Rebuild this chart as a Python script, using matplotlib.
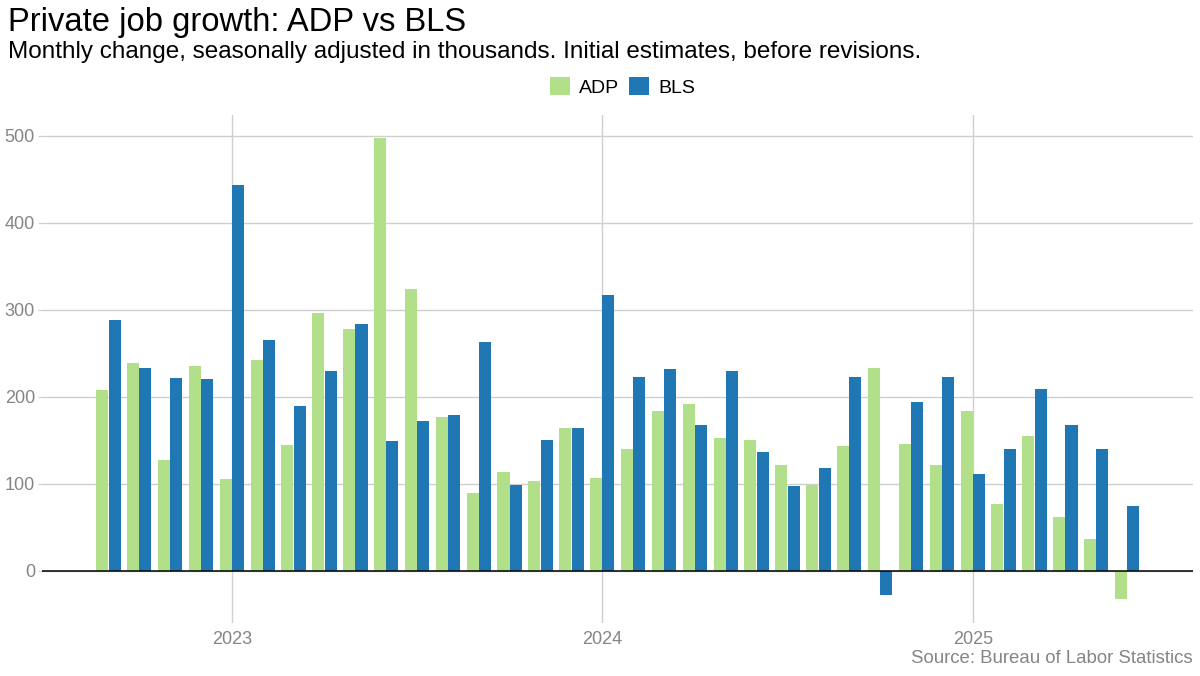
import numpy as np
import matplotlib.pyplot as plt

plt.rcParams['font.family'] = ['Liberation Sans', 'DejaVu Sans']

# Sep 2022 .. Jun 2025, initial estimates (thousands)
months = ['2022-09', '2022-10', '2022-11', '2022-12',
          '2023-01', '2023-02', '2023-03', '2023-04', '2023-05', '2023-06',
          '2023-07', '2023-08', '2023-09', '2023-10', '2023-11', '2023-12',
          '2024-01', '2024-02', '2024-03', '2024-04', '2024-05', '2024-06',
          '2024-07', '2024-08', '2024-09', '2024-10', '2024-11', '2024-12',
          '2025-01', '2025-02', '2025-03', '2025-04', '2025-05', '2025-06']
adp = [208, 239, 127, 235,
       106, 242, 145, 296, 278, 497, 324, 177, 89, 113, 103, 164,
       107, 140, 184, 192, 152, 150, 122, 99, 143, 233, 146, 122,
       183, 77, 155, 62, 37, -33]
bls = [288, 233, 221, 220,
       443, 265, 189, 230, 283, 149, 172, 179, 263, 99, 150, 164,
       317, 223, 232, 167, 229, 136, 97, 118, 223, -28, 194, 223,
       111, 140, 209, 167, 140, 74]
year_labels = ['2023', '2024', '2025']

x = np.arange(len(months))
year_ticks = [i for i, m in enumerate(months) if m.endswith('-01')]

fig = plt.figure(figsize=(12, 6.76), dpi=100)
ax = fig.add_axes([0.035, 0.0784, 0.959, 0.752])

ax.bar(x - 0.2, adp, width=0.39, color='#b2df8a', label='ADP', zorder=3)
ax.bar(x + 0.2, bls, width=0.39, color='#1f78b4', label='BLS', zorder=3)

ax.set_xlim(-2.15, 35.13)
ax.set_ylim(-60, 524)
ax.set_yticks([0, 100, 200, 300, 400, 500])
ax.set_xticks(year_ticks)
ax.set_xticklabels(year_labels)

ax.grid(axis='both', color='#cfcfcf', linewidth=1, zorder=0)
ax.axhline(0, color='black', linewidth=1.1, zorder=4)

for s in ax.spines.values():
    s.set_visible(False)
ax.tick_params(axis='y', colors='#cfcfcf', labelcolor='#858585', labelsize=13,
               length=3, pad=2)
ax.tick_params(axis='x', length=0, labelcolor='#858585', labelsize=13, pad=6)

fig.text(0.007, 1 - 31 / 676, 'Private job growth: ADP vs BLS', fontsize=23.6,
         ha='left', va='baseline', color='black')
fig.text(0.007, 1 - 58 / 676, 'Monthly change, seasonally adjusted in thousands. '
         'Initial estimates, before revisions.', fontsize=17.5,
         ha='left', va='baseline', color='black')
fig.legend(loc='center', bbox_to_anchor=(0.519, 1 - 87 / 676), ncol=2,
           frameon=False, fontsize=14, handlelength=1.0, handleheight=1.0,
           handletextpad=0.5, columnspacing=0.5)
fig.text(0.994, 0.013, 'Source: Bureau of Labor Statistics', fontsize=13.4,
         ha='right', va='bottom', color='#858585')

fig.savefig('out.png', dpi=100)
